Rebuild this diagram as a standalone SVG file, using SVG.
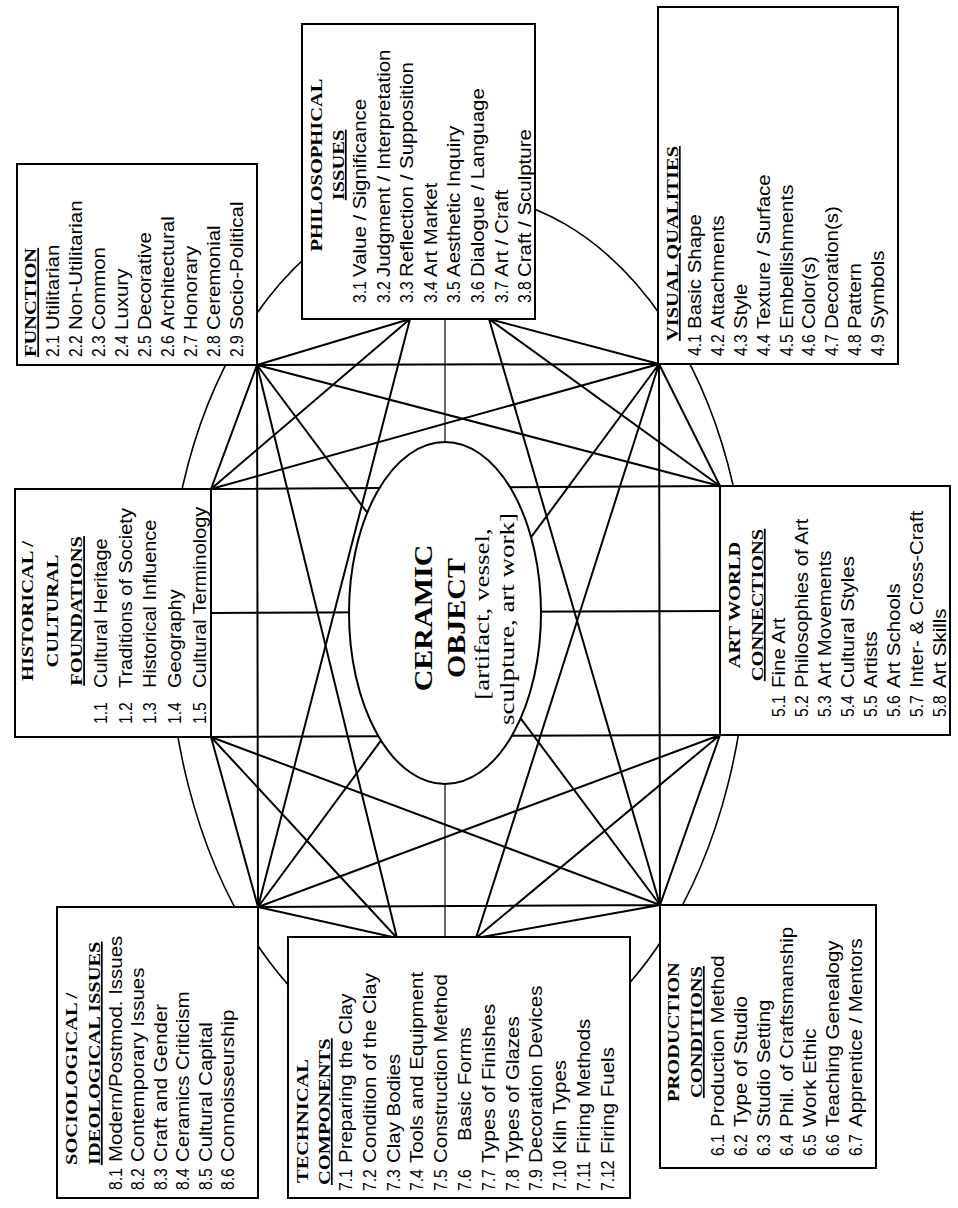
<svg xmlns="http://www.w3.org/2000/svg" width="958" height="1208" viewBox="0 0 958 1208">
<style>
.ln{stroke:#000;stroke-width:2;fill:none;stroke-linecap:round}
.thin{stroke:#000;stroke-width:1.2;fill:none}
.arc{stroke:#000;stroke-width:1.6;fill:none}
.box{fill:#fff;stroke:#000;stroke-width:2}
.n,.l{font-family:"Liberation Sans",Arial,sans-serif;font-size:17.5px;fill:#000}
.h{font-family:"Liberation Serif","Times New Roman",serif;font-weight:bold;font-size:17.5px;fill:#000}
.u{text-decoration:underline}
.m{text-anchor:middle}
.c{font-family:"Liberation Serif","Times New Roman",serif;font-weight:bold;font-size:25px;text-anchor:middle}
.b{font-family:"Liberation Serif","Times New Roman",serif;font-size:20px;text-anchor:middle}
</style>
<rect width="958" height="1208" fill="#fff"/>
<g id="outer-circle">
<path class="arc" d="M168 620 A290 426 0 0 1 748 620 A290 450 0 0 1 168 620 Z"/>
</g>
<g id="connectors">
<path class="ln" d="M211 489L257 365M211 489L410 319M211 489L659 364M211 489L720 486M211 737L720 735M211 613L720 611M211 737L660 905M211 737L397 938M211 737L258 907"/>
<path class="ln" d="M257 365L410 319M257 365L659 364M257 365L720 486M257 365L660 905M257 365L397 938M257 365L258 907"/>
<path class="ln" d="M489 319L659 364M489 319L720 486M489 319L660 905M410 319L258 907"/>
<path class="ln" d="M659 364L720 486M659 364L660 905M659 364L476 938M659 364L258 907"/>
<path class="ln" d="M720 735L660 905M720 735L476 938M720 735L258 907M660 905L476 938M660 905L258 907M397 938L258 907"/>
<path class="thin" d="M445 319L445 938"/>
</g>
<g id="ceramic-object">
<ellipse cx="445" cy="613" rx="96" ry="171" fill="#fff" stroke="#000" stroke-width="2"/>
<text class="c" transform="translate(432,618) rotate(-90) scale(1.2,1)">CERAMIC</text>
<text class="c" transform="translate(465,618) rotate(-90) scale(1.2,1)">OBJECT</text>
<text class="b" transform="translate(489,614) rotate(-90) scale(1.35,1)">[artifact, vessel,</text>
<text class="b" transform="translate(514,619) rotate(-90) scale(1.35,1)">sculpture, art work]</text>
</g>
<g id="function">
<rect class="box" x="17" y="164" width="240" height="201"/>
<text class="h u" transform="translate(36.4,357) rotate(-90) scale(1.17,1)">FUNCTION</text>
<text class="n" transform="translate(59.3,357) rotate(-90) scale(.9,1)">2.1</text><text class="l" transform="translate(59.3,330) rotate(-90) scale(1.17,1)">Utilitarian</text>
<text class="n" transform="translate(82.2,357) rotate(-90) scale(.9,1)">2.2</text><text class="l" transform="translate(82.2,330) rotate(-90) scale(1.17,1)">Non-Utilitarian</text>
<text class="n" transform="translate(105.1,357) rotate(-90) scale(.9,1)">2.3</text><text class="l" transform="translate(105.1,330) rotate(-90) scale(1.17,1)">Common</text>
<text class="n" transform="translate(128,357) rotate(-90) scale(.9,1)">2.4</text><text class="l" transform="translate(128,330) rotate(-90) scale(1.17,1)">Luxury</text>
<text class="n" transform="translate(150.9,357) rotate(-90) scale(.9,1)">2.5</text><text class="l" transform="translate(150.9,330) rotate(-90) scale(1.17,1)">Decorative</text>
<text class="n" transform="translate(173.8,357) rotate(-90) scale(.9,1)">2.6</text><text class="l" transform="translate(173.8,330) rotate(-90) scale(1.17,1)">Architectural</text>
<text class="n" transform="translate(196.7,357) rotate(-90) scale(.9,1)">2.7</text><text class="l" transform="translate(196.7,330) rotate(-90) scale(1.17,1)">Honorary</text>
<text class="n" transform="translate(219.6,357) rotate(-90) scale(.9,1)">2.8</text><text class="l" transform="translate(219.6,330) rotate(-90) scale(1.17,1)">Ceremonial</text>
<text class="n" transform="translate(242.5,357) rotate(-90) scale(.9,1)">2.9</text><text class="l" transform="translate(242.5,330) rotate(-90) scale(1.17,1)">Socio-Political</text>
</g>
<g id="philosophical">
<rect class="box" x="302" y="24" width="233" height="295"/>
<text class="h m" transform="translate(322,165) rotate(-90) scale(1.17,1)">PHILOSOPHICAL</text>
<text class="h m u" transform="translate(344,165) rotate(-90) scale(1.17,1)">ISSUES</text>
<text class="n" transform="translate(366,303) rotate(-90) scale(.9,1)">3.1</text><text class="l" transform="translate(366,277) rotate(-90) scale(1.17,1)">Value / Significance</text>
<text class="n" transform="translate(389.6,303) rotate(-90) scale(.9,1)">3.2</text><text class="l" transform="translate(389.6,277) rotate(-90) scale(1.17,1)">Judgment / Interpretation</text>
<text class="n" transform="translate(413.2,303) rotate(-90) scale(.9,1)">3.3</text><text class="l" transform="translate(413.2,277) rotate(-90) scale(1.17,1)">Reflection / Supposition</text>
<text class="n" transform="translate(436.8,303) rotate(-90) scale(.9,1)">3.4</text><text class="l" transform="translate(436.8,277) rotate(-90) scale(1.17,1)">Art Market</text>
<text class="n" transform="translate(460.4,303) rotate(-90) scale(.9,1)">3.5</text><text class="l" transform="translate(460.4,277) rotate(-90) scale(1.17,1)">Aesthetic Inquiry</text>
<text class="n" transform="translate(484,303) rotate(-90) scale(.9,1)">3.6</text><text class="l" transform="translate(484,277) rotate(-90) scale(1.17,1)">Dialogue / Language</text>
<text class="n" transform="translate(507.6,303) rotate(-90) scale(.9,1)">3.7</text><text class="l" transform="translate(507.6,277) rotate(-90) scale(1.17,1)">Art / Craft</text>
<text class="n" transform="translate(531.2,303) rotate(-90) scale(.9,1)">3.8</text><text class="l" transform="translate(531.2,277) rotate(-90) scale(1.17,1)">Craft / Sculpture</text>
</g>
<g id="visual-qualities">
<rect class="box" x="658" y="7" width="240" height="357"/>
<text class="h u" transform="translate(678,341) rotate(-90) scale(1.17,1)">VISUAL QUALITIES</text>
<text class="n" transform="translate(700.9,356) rotate(-90) scale(.9,1)">4.1</text><text class="l" transform="translate(700.9,329) rotate(-90) scale(1.17,1)">Basic Shape</text>
<text class="n" transform="translate(723.8,356) rotate(-90) scale(.9,1)">4.2</text><text class="l" transform="translate(723.8,329) rotate(-90) scale(1.17,1)">Attachments</text>
<text class="n" transform="translate(746.7,356) rotate(-90) scale(.9,1)">4.3</text><text class="l" transform="translate(746.7,329) rotate(-90) scale(1.17,1)">Style</text>
<text class="n" transform="translate(769.6,356) rotate(-90) scale(.9,1)">4.4</text><text class="l" transform="translate(769.6,329) rotate(-90) scale(1.17,1)">Texture / Surface</text>
<text class="n" transform="translate(792.5,356) rotate(-90) scale(.9,1)">4.5</text><text class="l" transform="translate(792.5,329) rotate(-90) scale(1.17,1)">Embellishments</text>
<text class="n" transform="translate(815.4,356) rotate(-90) scale(.9,1)">4.6</text><text class="l" transform="translate(815.4,329) rotate(-90) scale(1.17,1)">Color(s)</text>
<text class="n" transform="translate(838.3,356) rotate(-90) scale(.9,1)">4.7</text><text class="l" transform="translate(838.3,329) rotate(-90) scale(1.17,1)">Decoration(s)</text>
<text class="n" transform="translate(861.2,356) rotate(-90) scale(.9,1)">4.8</text><text class="l" transform="translate(861.2,329) rotate(-90) scale(1.17,1)">Pattern</text>
<text class="n" transform="translate(884.1,356) rotate(-90) scale(.9,1)">4.9</text><text class="l" transform="translate(884.1,329) rotate(-90) scale(1.17,1)">Symbols</text>
</g>
<g id="historical">
<rect class="box" x="15" y="489" width="196" height="248"/>
<text class="h m" transform="translate(33,611) rotate(-90) scale(1.17,1)">HISTORICAL /</text>
<text class="h m" transform="translate(57.6,611) rotate(-90) scale(1.17,1)">CULTURAL</text>
<text class="h m u" transform="translate(82.3,611) rotate(-90) scale(1.17,1)">FOUNDATIONS</text>
<text class="n" transform="translate(107,724) rotate(-90) scale(.9,1)">1.1</text><text class="l" transform="translate(107,688) rotate(-90) scale(1.14,1)">Cultural Heritage</text>
<text class="n" transform="translate(131.7,724) rotate(-90) scale(.9,1)">1.2</text><text class="l" transform="translate(131.7,688) rotate(-90) scale(1.14,1)">Traditions of Society</text>
<text class="n" transform="translate(156.4,724) rotate(-90) scale(.9,1)">1.3</text><text class="l" transform="translate(156.4,688) rotate(-90) scale(1.14,1)">Historical Influence</text>
<text class="n" transform="translate(181,724) rotate(-90) scale(.9,1)">1.4</text><text class="l" transform="translate(181,688) rotate(-90) scale(1.14,1)">Geography</text>
<text class="n" transform="translate(205.8,724) rotate(-90) scale(.9,1)">1.5</text><text class="l" transform="translate(205.8,688) rotate(-90) scale(1.14,1)">Cultural Terminology</text>
</g>
<g id="art-world">
<rect class="box" x="720" y="486" width="230" height="249"/>
<text class="h m" transform="translate(740,605) rotate(-90) scale(1.17,1)">ART WORLD</text>
<text class="h m u" transform="translate(763,605) rotate(-90) scale(1.17,1)">CONNECTIONS</text>
<text class="n" transform="translate(785,717) rotate(-90) scale(.9,1)">5.1</text><text class="l" transform="translate(785,688) rotate(-90) scale(1.17,1)">Fine Art</text>
<text class="n" transform="translate(808,717) rotate(-90) scale(.9,1)">5.2</text><text class="l" transform="translate(808,688) rotate(-90) scale(1.17,1)">Philosophies of Art</text>
<text class="n" transform="translate(831,717) rotate(-90) scale(.9,1)">5.3</text><text class="l" transform="translate(831,688) rotate(-90) scale(1.17,1)">Art Movements</text>
<text class="n" transform="translate(854,717) rotate(-90) scale(.9,1)">5.4</text><text class="l" transform="translate(854,688) rotate(-90) scale(1.17,1)">Cultural Styles</text>
<text class="n" transform="translate(877,717) rotate(-90) scale(.9,1)">5.5</text><text class="l" transform="translate(877,688) rotate(-90) scale(1.17,1)">Artists</text>
<text class="n" transform="translate(900,717) rotate(-90) scale(.9,1)">5.6</text><text class="l" transform="translate(900,688) rotate(-90) scale(1.17,1)">Art Schools</text>
<text class="n" transform="translate(923,717) rotate(-90) scale(.9,1)">5.7</text><text class="l" transform="translate(923,688) rotate(-90) scale(1.17,1)">Inter- &amp; Cross-Craft</text>
<text class="n" transform="translate(946,717) rotate(-90) scale(.9,1)">5.8</text><text class="l" transform="translate(946,688) rotate(-90) scale(1.17,1)">Art Skills</text>
</g>
<g id="sociological">
<rect class="box" x="57" y="907" width="201" height="291"/>
<text class="h" transform="translate(77,1165) rotate(-90) scale(1.17,1)">SOCIOLOGICAL /</text>
<text class="h u" transform="translate(100,1165) rotate(-90) scale(1.17,1)">IDEOLOGICAL ISSUES</text>
<text class="n" transform="translate(121.5,1190) rotate(-90) scale(.9,1)">8.1</text><text class="l" transform="translate(121.5,1162) rotate(-90) scale(1.17,1)">Modern/Postmod. Issues</text>
<text class="n" transform="translate(144,1190) rotate(-90) scale(.9,1)">8.2</text><text class="l" transform="translate(144,1162) rotate(-90) scale(1.17,1)">Contemporary Issues</text>
<text class="n" transform="translate(166.5,1190) rotate(-90) scale(.9,1)">8.3</text><text class="l" transform="translate(166.5,1162) rotate(-90) scale(1.17,1)">Craft and Gender</text>
<text class="n" transform="translate(189,1190) rotate(-90) scale(.9,1)">8.4</text><text class="l" transform="translate(189,1162) rotate(-90) scale(1.17,1)">Ceramics Criticism</text>
<text class="n" transform="translate(211.5,1190) rotate(-90) scale(.9,1)">8.5</text><text class="l" transform="translate(211.5,1162) rotate(-90) scale(1.17,1)">Cultural Capital</text>
<text class="n" transform="translate(234,1190) rotate(-90) scale(.9,1)">8.6</text><text class="l" transform="translate(234,1162) rotate(-90) scale(1.17,1)">Connoisseurship</text>
</g>
<g id="technical">
<rect class="box" x="288" y="937" width="342" height="261"/>
<text class="h" transform="translate(308,1183) rotate(-90) scale(1.17,1)">TECHNICAL</text>
<text class="h u" transform="translate(330,1185) rotate(-90) scale(1.17,1)">COMPONENTS</text>
<text class="n" transform="translate(352,1191) rotate(-90) scale(.9,1)">7.1</text><text class="l" transform="translate(352,1163) rotate(-90) scale(1.17,1)">Preparing the Clay</text>
<text class="n" transform="translate(375.8,1191) rotate(-90) scale(.9,1)">7.2</text><text class="l" transform="translate(375.8,1163) rotate(-90) scale(1.17,1)">Condition of the Clay</text>
<text class="n" transform="translate(399.6,1191) rotate(-90) scale(.9,1)">7.3</text><text class="l" transform="translate(399.6,1163) rotate(-90) scale(1.17,1)">Clay Bodies</text>
<text class="n" transform="translate(423.4,1191) rotate(-90) scale(.9,1)">7.4</text><text class="l" transform="translate(423.4,1163) rotate(-90) scale(1.17,1)">Tools and Equipment</text>
<text class="n" transform="translate(447.2,1191) rotate(-90) scale(.9,1)">7.5</text><text class="l" transform="translate(447.2,1163) rotate(-90) scale(1.17,1)">Construction Method</text>
<text class="n" transform="translate(471,1191) rotate(-90) scale(.9,1)">7.6</text><text class="l" transform="translate(471,1141) rotate(-90) scale(1.17,1)">Basic Forms</text>
<text class="n" transform="translate(494.8,1191) rotate(-90) scale(.9,1)">7.7</text><text class="l" transform="translate(494.8,1163) rotate(-90) scale(1.17,1)">Types of Finishes</text>
<text class="n" transform="translate(518.6,1191) rotate(-90) scale(.9,1)">7.8</text><text class="l" transform="translate(518.6,1163) rotate(-90) scale(1.17,1)">Types of Glazes</text>
<text class="n" transform="translate(542.4,1191) rotate(-90) scale(.9,1)">7.9</text><text class="l" transform="translate(542.4,1163) rotate(-90) scale(1.17,1)">Decoration Devices</text>
<text class="n" transform="translate(566.2,1191) rotate(-90) scale(.9,1)">7.10</text><text class="l" transform="translate(566.2,1154) rotate(-90) scale(1.17,1)">Kiln Types</text>
<text class="n" transform="translate(590,1191) rotate(-90) scale(.9,1)">7.11</text><text class="l" transform="translate(590,1154) rotate(-90) scale(1.17,1)">Firing Methods</text>
<text class="n" transform="translate(613.8,1191) rotate(-90) scale(.9,1)">7.12</text><text class="l" transform="translate(613.8,1154) rotate(-90) scale(1.17,1)">Firing Fuels</text>
</g>
<g id="production">
<rect class="box" x="660" y="905" width="216" height="263"/>
<text class="h m" transform="translate(679,1032) rotate(-90) scale(1.17,1)">PRODUCTION</text>
<text class="h m u" transform="translate(702,1032) rotate(-90) scale(1.17,1)">CONDITIONS</text>
<text class="n" transform="translate(724,1156) rotate(-90) scale(.9,1)">6.1</text><text class="l" transform="translate(724,1127) rotate(-90) scale(1.17,1)">Production Method</text>
<text class="n" transform="translate(747,1156) rotate(-90) scale(.9,1)">6.2</text><text class="l" transform="translate(747,1127) rotate(-90) scale(1.17,1)">Type of Studio</text>
<text class="n" transform="translate(770,1156) rotate(-90) scale(.9,1)">6.3</text><text class="l" transform="translate(770,1127) rotate(-90) scale(1.17,1)">Studio Setting</text>
<text class="n" transform="translate(793,1156) rotate(-90) scale(.9,1)">6.4</text><text class="l" transform="translate(793,1127) rotate(-90) scale(1.17,1)">Phil. of Craftsmanship</text>
<text class="n" transform="translate(816,1156) rotate(-90) scale(.9,1)">6.5</text><text class="l" transform="translate(816,1127) rotate(-90) scale(1.17,1)">Work Ethic</text>
<text class="n" transform="translate(839,1156) rotate(-90) scale(.9,1)">6.6</text><text class="l" transform="translate(839,1127) rotate(-90) scale(1.17,1)">Teaching Genealogy</text>
<text class="n" transform="translate(862,1156) rotate(-90) scale(.9,1)">6.7</text><text class="l" transform="translate(862,1127) rotate(-90) scale(1.17,1)">Apprentice / Mentors</text>
</g>
</svg>
